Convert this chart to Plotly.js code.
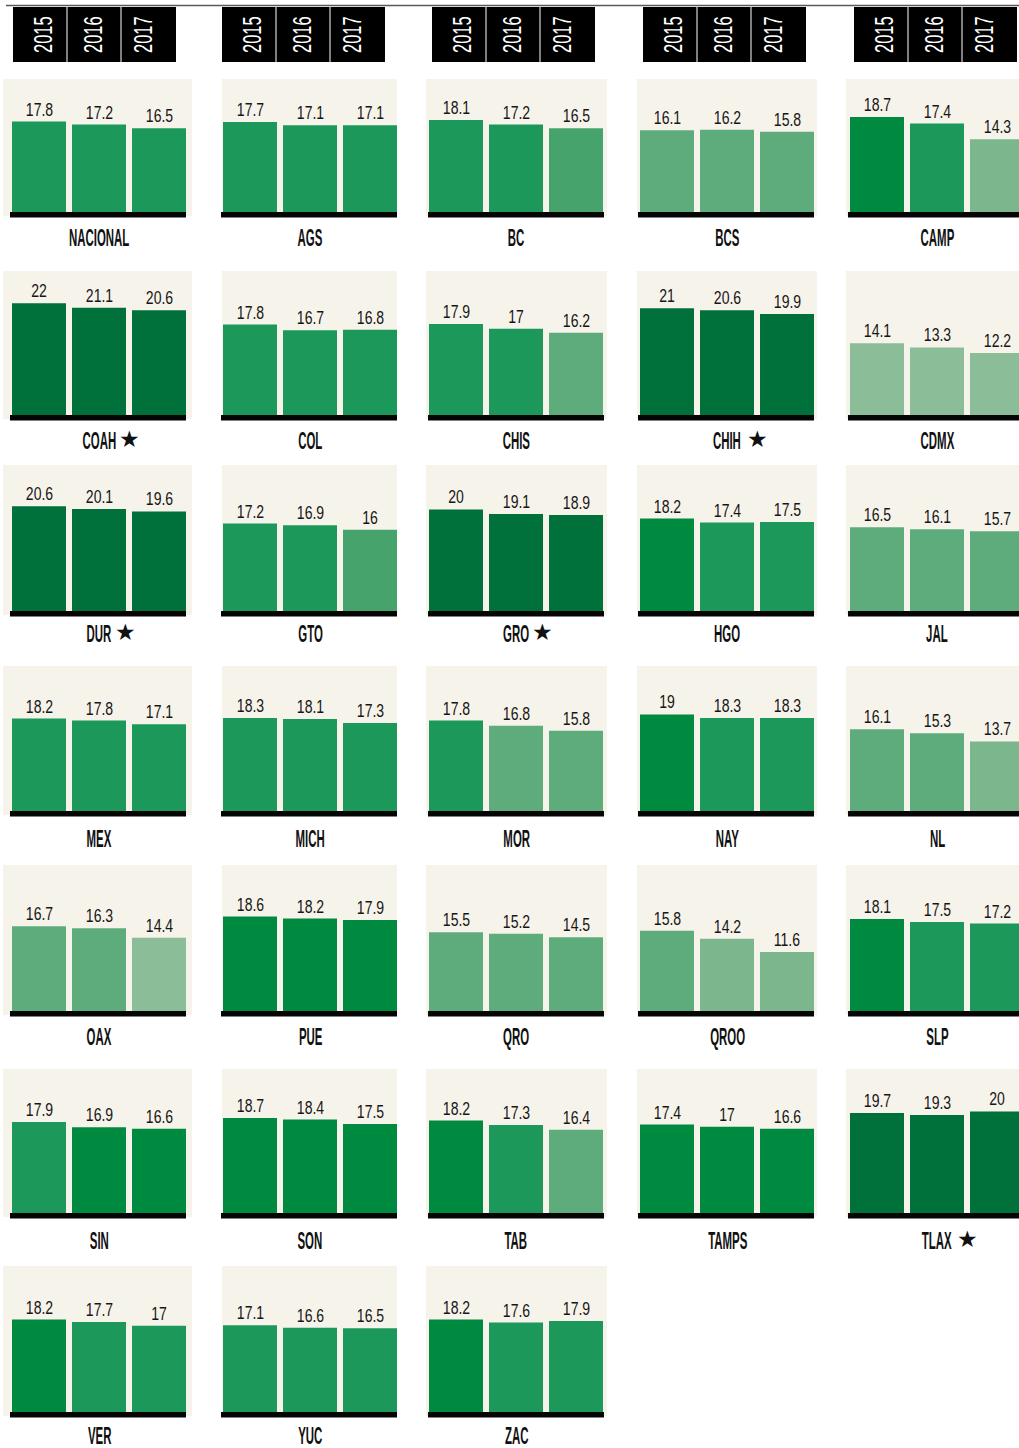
<!DOCTYPE html>
<html>
<head>
<meta charset="utf-8">
<script src="https://cdn.plot.ly/plotly-3.0.1.min.js"></script>
<style>
  html, body { margin: 0; padding: 0; background: #ffffff; }
  #chart { width: 1019px; height: 1448px; }
</style>
</head>
<body>
<div id="chart"></div>
<script>
// ---------------- DATA ----------------
const years = ['2015', '2016', '2017'];
const states = ['NACIONAL','AGS','BC','BCS','CAMP',
                'COAH','COL','CHIS','CHIH','CDMX',
                'DUR','GTO','GRO','HGO','JAL',
                'MEX','MICH','MOR','NAY','NL',
                'OAX','PUE','QRO','QROO','SLP',
                'SIN','SON','TAB','TAMPS','TLAX',
                'VER','YUC','ZAC'];
const v2015 = [17.8,17.7,18.1,16.1,18.7, 22,17.8,17.9,21,14.1, 20.6,17.2,20,18.2,16.5,
               18.2,18.3,17.8,19,16.1, 16.7,18.6,15.5,15.8,18.1, 17.9,18.7,18.2,17.4,19.7,
               18.2,17.1,18.2];
const v2016 = [17.2,17.1,17.2,16.2,17.4, 21.1,16.7,17,20.6,13.3, 20.1,16.9,19.1,17.4,16.1,
               17.8,18.1,16.8,18.3,15.3, 16.3,18.2,15.2,14.2,17.5, 16.9,18.4,17.3,17,19.3,
               17.7,16.6,17.6];
const v2017 = [16.5,17.1,16.5,15.8,14.3, 20.6,16.8,16.2,19.9,12.2, 19.6,16,18.9,17.5,15.7,
               17.1,17.3,15.8,18.3,13.7, 14.4,17.9,14.5,11.6,17.2, 16.6,17.5,16.4,16.6,20,
               17,16.5,17.9];
// shade class of each bar (0 = darkest green ... 6 = palest)
const shade2015 = [2,2,2,4,1, 0,2,2,0,6, 0,2,0,1,4, 2,2,2,1,4, 4,1,4,4,1, 2,1,1,1,0, 1,2,1];
const shade2016 = [2,2,2,4,2, 0,2,2,0,6, 0,2,0,2,4, 2,2,4,2,4, 4,1,4,5,2, 1,1,2,1,0, 2,2,2];
const shade2017 = [2,2,3,4,5, 0,2,4,0,6, 0,3,0,2,4, 2,2,4,2,5, 6,1,4,5,2, 1,1,4,1,0, 2,2,2];
const starred = ['COAH','CHIH','DUR','GRO','TLAX'];

// ---------------- STYLE / LAYOUT ----------------
const palette = ['#00713A','#008A40','#1B985A','#47A36C','#5EAB7B','#7BB68D','#8CBD99'];
const W = 1019, H = 1448;
const pxPerUnit = 5.08;
const barSpan = 174, barPx = 54, pitch = 60;
const colBarLeft = [12, 223, 429, 640, 850];
const colBgLeft  = [3, 222, 426, 637, 846];
const colBgRight = [192, 397, 607, 817, 1019];
const colBaseL   = [10, 221, 428, 638, 848];
const colBaseR   = [186, 397, 604, 814, 1019];
const colHdrLeft = [13, 222, 432, 643, 854];
const rowBgTop   = [79, 271, 465, 666, 865, 1069, 1266];
const rowBottom  = [212, 415, 611, 811, 1011, 1213, 1412];
const rowLabelY  = [238, 440, 633, 838, 1036, 1240, 1435];

const fx = p => p / W;
const fy = p => 1 - p / H;

const FAM = '"Liberation Sans", Arial, sans-serif';
const valueFont = {family: FAM, size: 18, color: '#161616'};
const labelFont = {family: FAM, size: 22, color: '#111111', weight: 700};
const yearFont  = {family: FAM, size: 25, color: '#ffffff'};
const starFont  = {family: '"DejaVu Sans", sans-serif', size: 23, color: '#111111'};

const traces = [];
const shapes = [];
const annotations = [];
const squeeze = {};   // annotation index -> [sx, sy] scale (condensed look of the original face)
const layout = {
  width: W, height: H,
  margin: {l: 0, r: 0, t: 0, b: 0},
  paper_bgcolor: '#ffffff',
  plot_bgcolor: 'rgba(0,0,0,0)',
  showlegend: false,
  shapes: shapes,
  annotations: annotations
};

// top rule
shapes.push({type: 'line', xref: 'paper', yref: 'paper', x0: fx(6), x1: 1, y0: fy(5.5), y1: fy(5.5),
             line: {color: '#5a5a5a', width: 1.5}});

// year headers
colHdrLeft.forEach(left => {
  shapes.push({type: 'rect', xref: 'paper', yref: 'paper', x0: fx(left), x1: fx(left + 163),
               y0: fy(62), y1: fy(7), fillcolor: '#000000', line: {width: 0}});
  for (let j = 1; j < 3; j++) {
    shapes.push({type: 'line', xref: 'paper', yref: 'paper', x0: fx(left + 54 * j), x1: fx(left + 54 * j),
                 y0: fy(62), y1: fy(7), line: {color: '#ffffff', width: 1}});
  }
  years.forEach((yr, j) => {
    squeeze[annotations.length] = [0.66, 1];
    annotations.push({xref: 'paper', yref: 'paper', x: fx(left + 31 + 50 * j), y: fy(34.5),
                      text: yr, showarrow: false, textangle: -90, font: yearFont,
                      xanchor: 'center', yanchor: 'middle'});
  });
});

states.forEach((st, i) => {
  const row = Math.floor(i / 5), col = i % 5;
  const n = i + 1;
  const xa = n === 1 ? 'xaxis' : 'xaxis' + n;
  const ya = n === 1 ? 'yaxis' : 'yaxis' + n;
  const xr = n === 1 ? 'x' : 'x' + n;
  const yr = n === 1 ? 'y' : 'y' + n;
  const left = colBarLeft[col];
  const right = Math.min(left + barSpan, W);
  const x0 = -(barPx / 2) / pitch;
  layout[xa] = {domain: [fx(left), fx(right)], range: [x0, x0 + (right - left) / pitch],
                visible: false, fixedrange: true};
  layout[ya] = {domain: [fy(rowBottom[row]), fy(rowBgTop[row])],
                range: [0, (rowBottom[row] - rowBgTop[row]) / pxPerUnit],
                visible: false, fixedrange: true};

  const vals = [v2015[i], v2016[i], v2017[i]];
  const shades = [shade2015[i], shade2016[i], shade2017[i]];
  traces.push({type: 'bar', x: [0, 1, 2], y: vals, xaxis: xr, yaxis: yr,
               width: barPx / pitch, marker: {color: shades.map(s => palette[s]), line: {width: 0}},
               hoverinfo: 'skip', cliponaxis: true});

  // cream background
  shapes.push({type: 'rect', xref: 'paper', yref: 'paper', layer: 'below',
               x0: fx(colBgLeft[col]), x1: fx(colBgRight[col]),
               y0: fy(rowBottom[row] + 4), y1: fy(rowBgTop[row]),
               fillcolor: '#F6F3EA', line: {width: 0}});
  // black baseline
  shapes.push({type: 'rect', xref: 'paper', yref: 'paper', layer: 'above',
               x0: fx(colBaseL[col]), x1: fx(colBaseR[col]),
               y0: fy(rowBottom[row] + 5.5), y1: fy(rowBottom[row]),
               fillcolor: '#050505', line: {width: 0}});

  // value labels
  vals.forEach((v, j) => {
    squeeze[annotations.length] = [0.78, 1.04];
    annotations.push({xref: xr, yref: yr, x: j, y: v, text: String(v), showarrow: false,
                      xanchor: 'center', yanchor: 'bottom', yshift: 0, font: valueFont});
  });

  // panel label
  squeeze[annotations.length] = [0.52, 1.12];
  annotations.push({xref: xr, yref: 'paper', x: 1, y: fy(rowLabelY[row]),
                    text: st, showarrow: false,
                    xanchor: 'center', yanchor: 'middle', font: labelFont});
  if (starred.includes(st)) {
    annotations.push({xref: xr, yref: 'paper', x: 1, y: fy(rowLabelY[row] - 1),
                      text: '★', showarrow: false, xanchor: 'left', yanchor: 'middle',
                      xshift: st.length * 3.7 + 3, font: starFont});
  }
});

Plotly.newPlot('chart', traces, layout, {staticPlot: true, displayModeBar: false}).then(gd => {
  // reshape texts to mimic the tall condensed display face of the original
  gd.querySelectorAll('g.annotation').forEach(g => {
    const idx = +g.getAttribute('data-index');
    const s = squeeze[idx];
    if (s) {
      const t = g.querySelector('text');
      if (t) {
        t.style.transformBox = 'fill-box';
        t.style.transformOrigin = 'center';
        t.style.transform = 'scale(' + s[0] + ', ' + s[1] + ')';
      }
    }
  });
});
</script>
</body>
</html>
